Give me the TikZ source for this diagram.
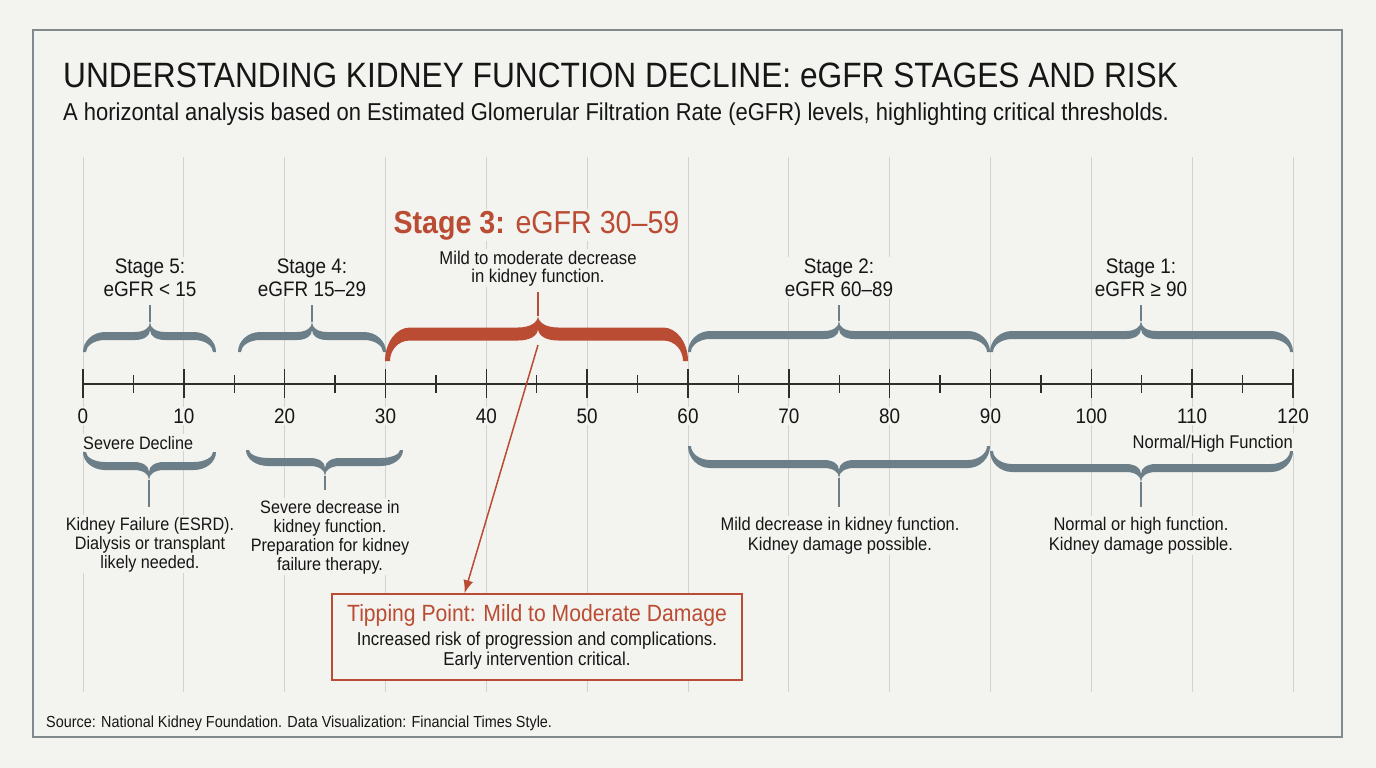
\documentclass[tikz,border=0pt]{standalone}
\usepackage{fontspec}
\setmainfont{Liberation Sans}[FakeStretch=0.9]
\usetikzlibrary{arrows.meta,calc}
\definecolor{bg}{RGB}{243,243,239}
\definecolor{framec}{RGB}{130,137,140}
\definecolor{gridc}{RGB}{210,210,206}
\definecolor{slate}{RGB}{108,126,136}
\definecolor{brick}{RGB}{187,76,52}
\definecolor{ink}{RGB}{22,22,22}
\newcommand{\fsz}[2]{\fontsize{#1}{#2}\selectfont}
\def\bR{22}\def\bC{15}\def\bW{3}
% x1 x2 xtip yend yflat ytip halfthick colour cuspheight
\newcommand{\cbrace}[9]{%
 \pgfmathsetmacro{\bS}{(#6<#5)?-1:1}%
 \pgfmathsetmacro{\bO}{#5+\bS*#7}%
 \pgfmathsetmacro{\bI}{#5-\bS*#7}%
 \pgfmathsetmacro{\bK}{#9}%
 \fill[#8] (#1,#4) .. controls (#1,{\bO+0.45*(#4-\bO)}) and ({#1+0.45*\bR},\bO) .. ({#1+\bR},\bO)
   -- ({#3-\bC},\bO) .. controls ({#3-0.4*\bC},\bO) and (#3,{\bO+\bS*0.4*\bK}) .. (#3,{\bO+\bS*\bK})
   .. controls (#3,{\bO+\bS*0.4*\bK}) and ({#3+0.4*\bC},\bO) .. ({#3+\bC},\bO)
   -- ({#2-\bR},\bO) .. controls ({#2-0.45*\bR},\bO) and (#2,{\bO+0.45*(#4-\bO)}) .. (#2,#4)
   -- ({#2-\bW},#4) .. controls ({#2-\bW},{\bI+0.5*(#4-\bI)}) and ({#2-0.5*\bR},\bI) .. ({#2-\bR},\bI)
   -- ({#3+\bC},\bI) .. controls ({#3+0.4*\bC},\bI) and (#3,{\bI+\bS*0.4*\bK}) .. (#3,{\bI+\bS*\bK})
   .. controls (#3,{\bI+\bS*0.4*\bK}) and ({#3-0.4*\bC},\bI) .. ({#3-\bC},\bI)
   -- ({#1+\bR},\bI) .. controls ({#1+0.5*\bR},\bI) and ({#1+\bW},{\bI+0.5*(#4-\bI)}) .. ({#1+\bW},#4) -- cycle;
 \draw[#8, line width=2.4pt] (#3,{\bO+\bS*\bK}) -- (#3,#6);
}
\begin{document}
\begin{tikzpicture}[x=1pt,y=-1pt,
  txt/.style={inner sep=1.5pt, fill=bg, text=ink},
  body/.style={txt, align=center, anchor=base, font=\fsz{18}{19}},
  stagelab/.style={txt, align=center, anchor=base, font=\fsz{21}{23}},
  ticklab/.style={txt, anchor=base, font=\fsz{21}{23}},
  gridline/.style={draw=gridc, line width=1pt},
  axisline/.style={draw=ink!90, line width=1.6pt},
  majortick/.style={draw=ink!90, line width=1.4pt},
  minortick/.style={draw=ink!90, line width=1.2pt},
  tipbox/.style={draw=brick, line width=1.6pt, fill=bg, minimum width=410pt, minimum height=86pt, align=center, inner sep=0pt, font=\fsz{18.7}{20.5}, text=ink},
  pointer/.style={draw=brick, line width=1.5pt, -{Latex[length=13pt,width=10pt]}}
]
\useasboundingbox (0,0) rectangle (1376,768);
\fill[bg] (0,0) rectangle (1376,768);
\draw[draw=framec, line width=2pt] (33,30) rectangle (1342,737);

% grid
\foreach \v in {0,10,...,120}{
  \pgfmathsetmacro\xx{83+10.0833*\v}
  \draw[gridline] (\xx,157) -- (\xx,692);
}

% titles
\node[txt, anchor=base west, inner sep=0pt, font=\fsz{35.2}{40}] (title) at (63,88) {UNDERSTANDING KIDNEY FUNCTION DECLINE: eGFR STAGES AND RISK};
\node[txt, anchor=base west, inner sep=0pt, font=\fsz{24.4}{28}] (subtitle) at (63,120) {A horizontal analysis based on Estimated Glomerular Filtration Rate (eGFR) levels, highlighting critical thresholds.};

% stage labels (anchor = baseline of last line)
\node[stagelab] (st5) at (150,296) {Stage 5:\\eGFR < 15};
\node[stagelab] (st4) at (312,296) {Stage 4:\\eGFR 15–29};
\node[stagelab] (st2) at (839,296) {Stage 2:\\eGFR 60–89};
\node[stagelab] (st1) at (1141,296) {Stage 1:\\eGFR ≥ 90};
\node[txt, anchor=base, text=brick, font=\fsz{31.8}{36}] (st3) at (536.5,233) {{\bfseries Stage 3:} eGFR 30–59};
\node[body, font=\fsz{18.5}{18}] (st3d) at (538,282) {Mild to moderate decrease\\in kidney function.};

% tick labels
\foreach \v in {0,10,...,120}{
  \pgfmathsetmacro\xx{83+10.0833*\v}
  \node[ticklab] (l\v) at (\xx,423) {\v};
}
\node[txt, anchor=base west, font=\fsz{18}{19}] (sev) at (81.5,449) {Severe Decline};
\node[txt, anchor=base east, font=\fsz{18.4}{19}] (norm) at (1294.5,448) {Normal/High Function};

% descriptions
\node[body] (d5) at (150,568) {Kidney Failure (ESRD).\\Dialysis or transplant\\likely needed.};
\node[body] (d4) at (330,570) {Severe decrease in\\kidney function.\\Preparation for kidney\\failure therapy.};
\node[body, font=\fsz{18.3}{19.5}] (d2) at (840,550) {Mild decrease in kidney function.\\Kidney damage possible.};
\node[body, font=\fsz{18.3}{19.5}] (d1) at (1141,550) {Normal or high function.\\Kidney damage possible.};

% axis
\draw[axisline] (83,384) -- (1293,384);
\foreach \v in {0,10,...,120}{
  \pgfmathsetmacro\xx{83+10.0833*\v}
  \draw[majortick] (\xx,369) -- (\xx,398);
}
\foreach \v in {5,15,...,115}{
  \pgfmathsetmacro\xx{83+10.0833*\v}
  \draw[minortick] (\xx,375) -- (\xx,393);
}

% top braces
\cbrace{83}{216}{150}{352}{336}{305}{4}{slate}{10}
\cbrace{238}{386}{312}{352}{336}{305}{4}{slate}{10}
\cbrace{688}{990}{839}{352}{335}{305}{4}{slate}{10}
\cbrace{990}{1293}{1141}{352}{335}{305}{4}{slate}{10}
{\def\bR{25}\def\bC{20}\def\bW{5}
\cbrace{385}{688}{538}{361}{334}{292}{6.5}{brick}{12}}
% bottom braces
\cbrace{83}{216}{149}{452}{466}{507}{4}{slate}{10}
\cbrace{246}{403}{325}{450}{462}{490}{4}{slate}{10}
\cbrace{688}{990}{839}{446}{464}{507}{4}{slate}{10}
\cbrace{990}{1293}{1141}{451}{468}{507}{4}{slate}{10}

% tipping point box
\node[tipbox] (tip) at (537,637) {{\color{brick}\fsz{23.5}{24}Tipping Point: Mild to Moderate Damage}\\[3.5pt]\fsz{18.7}{20.5}Increased risk of progression and complications.\\\fsz{18.7}{20.5}Early intervention critical.};
\coordinate (s3) at (538,345);
\draw[pointer] (s3) -- ($(tip.north west)!0.324!(tip.north east)$);

% source
\node[txt, anchor=base west, font=\fsz{16}{18}] (src) at (44.5,727) {Source: National Kidney Foundation. Data Visualization: Financial Times Style.};
\end{tikzpicture}
\end{document}
